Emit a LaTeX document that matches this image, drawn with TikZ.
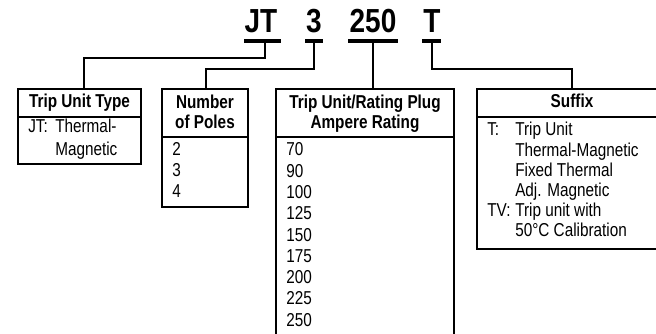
\documentclass[tikz,border=0pt]{standalone}
\usepackage{fontspec}
\setmainfont{Liberation Sans}[FakeStretch=0.82]
\newfontfamily\titlefam{Liberation Sans}[FakeStretch=0.84]
\newcommand\titlefont{\titlefam\fontsize{25}{28}\selectfont\bfseries}
\newcommand\hdrfont{\fontsize{14}{15}\selectfont\bfseries}
\newcommand\bodyfnt[1]{\fontsize{14}{#1}\selectfont}
\tikzset{
  boxline/.style={line width=1pt},
  conn/.style={line width=0.8pt},
  uline/.style={line width=3pt},
  ttl/.style={font=\titlefont, anchor=base, inner sep=0pt},
  hdr/.style={font=\hdrfont, anchor=base, inner sep=0pt},
  body/.style={anchor=base west, inner sep=0pt},
}
\begin{document}
\begin{tikzpicture}[x=0.75pt,y=-0.75pt]
\useasboundingbox (0,0) rectangle (656,334);
\clip (0,0) rectangle (656,334);
% title
\node[ttl] (tJT) at (261,33) {JT};
\node[ttl] (t3) at (314,33) {3};
\node[ttl] (t250) at (373,33) {250};
\node[ttl] (tT) at (432,33) {T};
\draw[uline] (244,41.3) -- (281,41.3);
\draw[uline] (305,41.3) -- (323,41.3);
\draw[uline] (348,41.3) -- (398,41.3);
\draw[uline] (422,41.3) -- (441,41.3);
\coordinate (uJT) at (265,43);
\coordinate (u3) at (314,43);
\coordinate (u250) at (373,43);
\coordinate (uT) at (432,43);
% boxes
\draw[boxline] (18,89) rectangle (141,164);
\draw[boxline] (18,117) -- (141,117);
\draw[boxline] (162,89) rectangle (248,207);
\draw[boxline] (162,137) -- (248,137);
\draw[boxline] (276,89) rectangle (454,345);
\draw[boxline] (276,137) -- (454,137);
\draw[boxline] (477,89) rectangle (667,249);
\draw[boxline] (477,117) -- (667,117);
\coordinate (b1t) at (84,89);
\coordinate (b2t) at (206,89);
\coordinate (b3t) at (373,89);
\coordinate (b4t) at (572,89);
% connectors
\draw[conn] (uJT) -- (265,58) -| (b1t);
\draw[conn] (u3) -- (314,69) -| (b2t);
\draw[conn] (u250) -- (b3t);
\draw[conn] (uT) -- (432,69) -| (b4t);
% headers
\node[hdr] (h1) at (79.5,108) {Trip Unit Type};
\node[hdr] (h2) at (205,109) {\begin{tabular}[t]{@{}c@{}}Number\\of Poles\end{tabular}};
\node[hdr] (h3) at (365,109) {\begin{tabular}[t]{@{}c@{}}Trip Unit/Rating Plug\\Ampere Rating\end{tabular}};
\node[hdr] (h4) at (572,108) {Suffix};
% bodies
\node[body, font=\bodyfnt{17.25}] (c1) at (28,133) {\begin{tabular}[t]{@{}p{20.25pt}@{}l@{}}JT: & Thermal-\\ & Magnetic\end{tabular}};
\node[body, font=\bodyfnt{15.4}] (c2) at (172,156) {\begin{tabular}[t]{@{}l@{}}2\\3\\4\end{tabular}};
\node[body, font=\bodyfnt{15.94}] (c3) at (286,156) {\begin{tabular}[t]{@{}l@{}}70\\90\\100\\125\\150\\175\\200\\225\\250\end{tabular}};
\node[body, font=\bodyfnt{15.15}] (c4) at (487,136) {\begin{tabular}[t]{@{}p{21pt}@{}l@{}}T: & Trip Unit\\ & Thermal-Magnetic\\ & Fixed Thermal\\ & Adj. Magnetic\\TV: & Trip unit with\\ & 50\textdegree C Calibration\end{tabular}};
\end{tikzpicture}
\end{document}
